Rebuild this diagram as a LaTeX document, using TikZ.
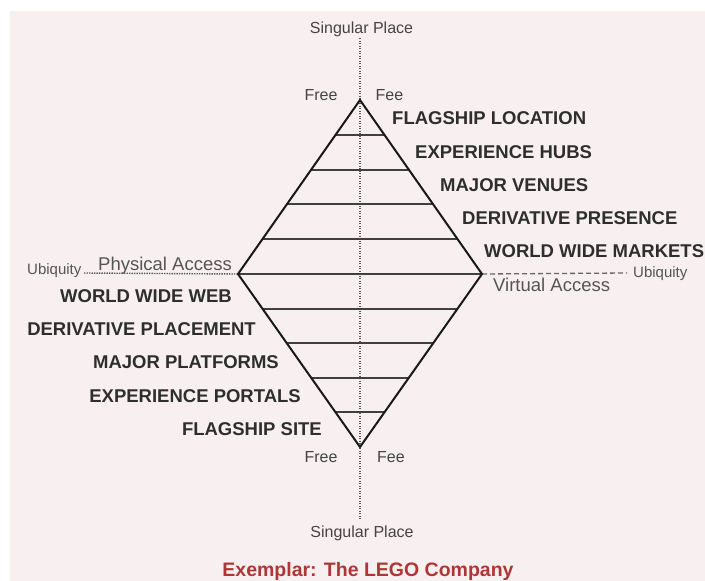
\documentclass[tikz,border=0pt]{standalone}
\usepackage{fontspec}
\setmainfont{Liberation Sans}
\usetikzlibrary{calc}
\definecolor{bgpink}{HTML}{F8F0F0}
\definecolor{lbl}{HTML}{2E2E2E}
\definecolor{soft}{HTML}{555555}
\definecolor{titlered}{HTML}{B03535}
\begin{document}
\begin{tikzpicture}[x=1pt,y=-1pt,
  edge/.style={line width=2pt, draw=black!90, line join=miter},
  rung/.style={line width=2pt, draw=black!75},
  axisdot/.style={line width=1.4pt, draw=black!65, dash pattern=on 1.3pt off 1.2pt},
  axisdash/.style={line width=1.3pt, draw=black!60, dash pattern=on 5pt off 3pt},
  tier/.style={font=\fontsize{18.5}{20}\selectfont\bfseries, text=lbl, inner sep=0pt},
  side/.style={font=\fontsize{18.5}{20}\selectfont, text=soft, inner sep=0pt},
  small/.style={font=\fontsize{16}{18}\selectfont, text=soft!80!black, inner sep=0pt},
  tiny/.style={font=\fontsize{15}{17}\selectfont, text=soft, inner sep=0pt}]

\useasboundingbox (0,0) rectangle (705,581);
\fill[white] (0,0) rectangle (705,581);
\fill[bgpink] (10,11) rectangle (705,581);

% key points
\coordinate (T) at (360,100);
\coordinate (L) at (238,274);
\coordinate (R) at (482,274);
\coordinate (B) at (360,447);
\coordinate (ttop) at (360,38);
\coordinate (tbot) at (360,519);
\coordinate (uL) at (84,273);
\coordinate (uR) at (627,273);

% axes
\draw[axisdot] (ttop) -- (tbot);
\draw[axisdot] (uL) -- (L);
\draw[axisdash] (R) -- (uR);

% rungs
\draw[rung] (L) -- (R);
\foreach \k in {1,2,3,4}{
  \draw[rung] ($(T)!\k/5!(L)$) -- ($(T)!\k/5!(R)$);
  \draw[rung] ($(B)!\k/5!(L)$) -- ($(B)!\k/5!(R)$);
}

% diamond
\draw[edge] (T) -- (R) -- (B) -- (L) -- cycle;

% axis labels
\node[small, anchor=base] (sp1) at (361.5,33) {Singular Place};
\node[small, anchor=base] (sp2) at (362,537.5) {Singular Place};
\node[small, anchor=base] (fr1) at (321,100) {Free};
\node[small, anchor=base] (fe1) at (389.5,100) {Fee};
\node[small, anchor=base] (fr2) at (321,462.5) {Free};
\node[small, anchor=base] (fe2) at (391,462.5) {Fee};
\node[tiny, anchor=base west] (ub1) at (27,274.5) {Ubiquity};
\node[tiny, anchor=base west] (ub2) at (633,277) {Ubiquity};
\node[side, anchor=base west] (pa) at (98,270) {Physical Access};
\node[side, anchor=base west] (va) at (493,291) {Virtual Access};

% tiers (upper)
\node[tier, anchor=base west] (u1) at (392,124.5) {FLAGSHIP LOCATION};
\node[tier, anchor=base west] (u2) at (415,158.5) {EXPERIENCE HUBS};
\node[tier, anchor=base west] (u3) at (440,191.5) {MAJOR VENUES};
\node[tier, anchor=base west] (u4) at (462,224.5) {DERIVATIVE PRESENCE};
\node[tier, anchor=base west] (u5) at (484,257.5) {WORLD WIDE MARKETS};

% tiers (lower)
\node[tier, anchor=base east] (l1) at (232,302) {WORLD WIDE WEB};
\node[tier, anchor=base east] (l2) at (256,335.5) {DERIVATIVE PLACEMENT};
\node[tier, anchor=base east] (l3) at (279,368) {MAJOR PLATFORMS};
\node[tier, anchor=base east] (l4) at (301,402) {EXPERIENCE PORTALS};
\node[tier, anchor=base east] (l5) at (322,435.5) {FLAGSHIP SITE};

% title
\node[font=\fontsize{19.5}{21}\selectfont\bfseries, text=titlered, inner sep=0pt, anchor=base] (title) at (368,576) {Exemplar: The LEGO Company};
\end{tikzpicture}
\end{document}
